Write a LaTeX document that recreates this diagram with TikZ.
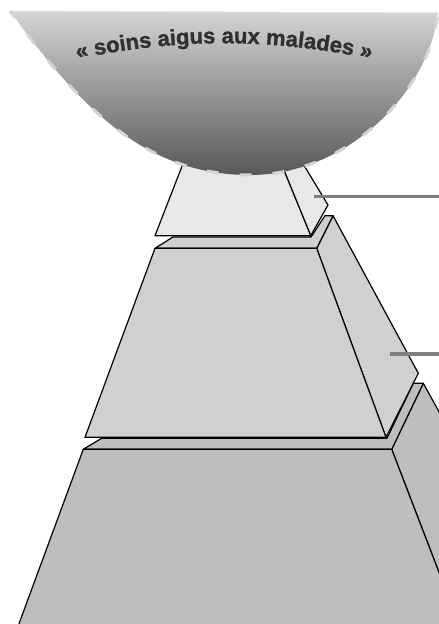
\documentclass[tikz,border=0pt]{standalone}
\usepackage{fontspec}
\newfontfamily\bowlfont{Liberation Sans}[BoldFeatures={FakeBold=1.2}]
\usetikzlibrary{decorations.text}
\definecolor{lvlone}{HTML}{E8E8E8}
\definecolor{lvltwo}{HTML}{D0D0D0}
\definecolor{lvlthree}{HTML}{BEBEBE}
\definecolor{dashgray}{HTML}{D4D4D4}
\definecolor{linkgray}{HTML}{7F7F7F}
\definecolor{bowltop}{HTML}{D4D4D4}
\definecolor{bowlbot}{HTML}{585858}
\definecolor{rimgray}{HTML}{E2E2E2}
\definecolor{textgray}{HTML}{303030}
\begin{document}
\begin{tikzpicture}[x=1pt,y=-1pt,
  face/.style={draw=black, line width=1.2pt, line join=round},
  link/.style={draw=linkgray, line width=3.3pt}]
\useasboundingbox (0,0) rectangle (439,624);
\clip (0,0) rectangle (439,624);

% level 3
\filldraw[face, fill=lvlthree] (391.7,449.3) -- (423.3,383.3) -- (565,640) -- (465,640) -- cycle;
\filldraw[face, fill=lvlthree] (83.3,449.3) -- (101.7,438.3) -- (387,438.3) -- (413.3,383.3) -- (423.3,383.3) -- (391.7,449.3) -- cycle;
\filldraw[face, fill=lvlthree] (83.3,449.3) -- (391.7,449.3) -- (465,640) -- (13,640) -- cycle;

% level 2
\filldraw[face, fill=lvltwo] (316.7,248.3) -- (333,215.7) -- (418.3,373.3) -- (386,437.3) -- cycle;
\filldraw[face, fill=lvltwo] (155,248.3) -- (173,237) -- (311,237) -- (325,215.7) -- (333,215.7) -- (316.7,248.3) -- cycle;
\filldraw[face, fill=lvltwo] (155,248.3) -- (316.7,248.3) -- (386,437.3) -- (85,437.3) -- cycle;

% level 1
\filldraw[face, fill=lvlone] (275.6,150) -- (294.7,150) -- (328,205) -- (310.7,235.7) -- cycle;
\filldraw[face, fill=lvlone] (188.3,150) -- (275.6,150) -- (310.7,235.7) -- (155,235.7) -- cycle;

% links
\coordinate (k1s) at (314,196.7);
\coordinate (k1e) at (439,196.7);
\draw[link] (k1s) -- (k1e);
\coordinate (k2s) at (390,354);
\coordinate (k2e) at (439,354);
\draw[link] (k2s) -- (k2e);

% bowl
\path[top color=bowltop, bottom color=bowlbot]
  (10,11) .. controls (85,115) and (150,175) .. (250,175)
  .. controls (345,175) and (428,95) .. (438,13) -- cycle;
\draw[rimgray, line width=1pt] (10,11) -- (438,13);
\draw[dashgray, line width=3pt, dash pattern=on 12pt off 21pt, dash phase=4pt]
  (10,11) .. controls (85,115) and (150,175) .. (250,175)
  .. controls (345,175) and (428,95) .. (438,13);

% curved title
\path[decorate, decoration={text along path, text align=center,
  text color=textgray,
  text={|\bowlfont\bfseries\fontsize{22}{22}\selectfont|« soins aigus aux malades »}}]
  (64,62) .. controls (172,37) and (276,37) .. (384,62);
\end{tikzpicture}
\end{document}
